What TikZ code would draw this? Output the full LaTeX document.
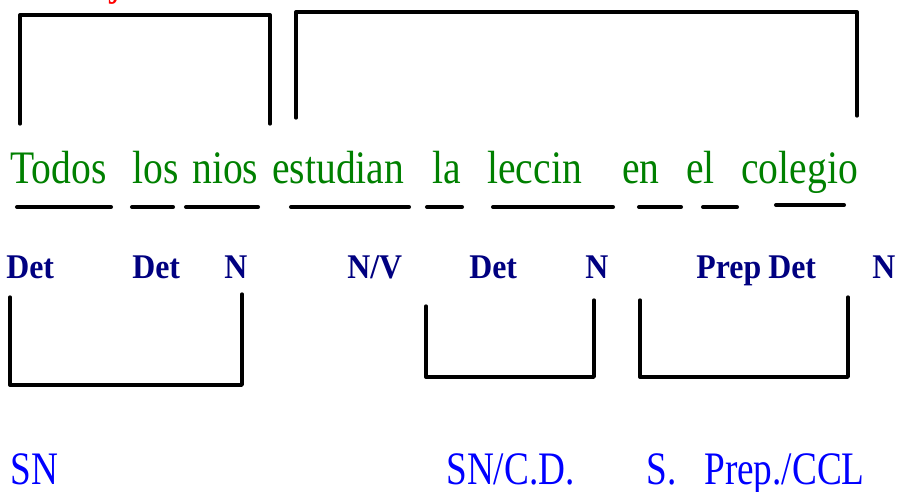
\documentclass[tikz,border=0pt]{standalone}
\usepackage{fontspec}
\setmainfont{Liberation Serif}
\newfontfamily\wordfont[FakeStretch=0.85]{Liberation Serif}
\newfontfamily\posfont[FakeStretch=0.92]{Liberation Serif}
\newfontfamily\phrasefont[FakeStretch=0.8]{Liberation Serif}
\definecolor{wordgreen}{RGB}{0,128,0}
\definecolor{posblue}{RGB}{0,0,128}
\definecolor{phraseblue}{RGB}{0,0,255}

\begin{document}
\begin{tikzpicture}[x=0.02cm, y=-0.02cm,
                word/.style={font=\wordfont\fontsize{26.5}{30}\selectfont, text=wordgreen, anchor=base west, inner sep=0pt},
                wordclass/.style={font=\posfont\bfseries\fontsize{19.7}{22}\selectfont, text=posblue, anchor=base west, inner sep=0pt},
                phrase/.style={font=\phrasefont\fontsize{26.5}{30}\selectfont, text=phraseblue, anchor=base west, inner sep=0pt},
                bracket/.style={draw, line width=1.9pt, line join=round, line cap=round},
                under/.style={draw, line width=2.3pt, line cap=round}
            ]
            \useasboundingbox (0,0) rectangle (898,491);
            \clip (0,0) rectangle (898,491);
            % cut-off title
            \node[word, text=red](sujeto) at (68,-6) {Sujeto};
            % sentence
            \node[word](todos) at (10,183) {Todos};
            \node[word](los) at (132,183) {los};
            \node[word](nios) at (192,183) {nios};
            \node[word](estudian) at (272,183) {estudian};
            \node[word](la) at (432,183) {la};
            \node[word](leccin) at (487,183) {leccin};
            \node[word](en) at (622,183) {en};
            \node[word](el) at (686,183) {el};
            \node[word](colegio) at (741,183) {colegio};
            \path[under] (17,207) -- (111,207) (132,207) -- (173,207) (186,207) -- (258,207)
                (291,207) -- (409,207) (427,207) -- (462,207) (493,207) -- (613,207)
                (639,207) -- (681,207) (703,207) -- (737,207) (776,205) -- (844,205);
            % word classes
            \node[wordclass](det1) at (6,278) {Det};
            \node[wordclass](det2) at (132,278) {Det};
            \node[wordclass](n1) at (224,278) {N};
            \node[wordclass](nv) at (347,278) {N/V};
            \node[wordclass](det3) at (469,278) {Det};
            \node[wordclass](n2) at (585,278) {N};
            \node[wordclass](prep) at (696,278) {Prep};
            \node[wordclass](det4) at (768,278) {Det};
            \node[wordclass](n3) at (872,278) {N};
            % brackets
            \path[bracket] (20,124) -- (20,15) -- (270,15) -- (270,124);
            \path[bracket] (296,118) -- (296,12) -- (857,12) -- (857,116);
            \path[bracket] (10,297) -- (10,385) -- (242,385) -- (242,294);
            \path[bracket] (426,306) -- (426,377) -- (594,377) -- (594,300);
            \path[bracket] (640,300) -- (640,377) -- (848,377) -- (848,297);
            % phrases
            \node[phrase](sn) at (10,484) {SN};
            \node[phrase](sncd) at (446,484) {SN/C.D.};
            \node[phrase](sprep) at (646,484) {S.\hspace{0.6em}Prep./CCL};
        \end{tikzpicture}
\end{document}
